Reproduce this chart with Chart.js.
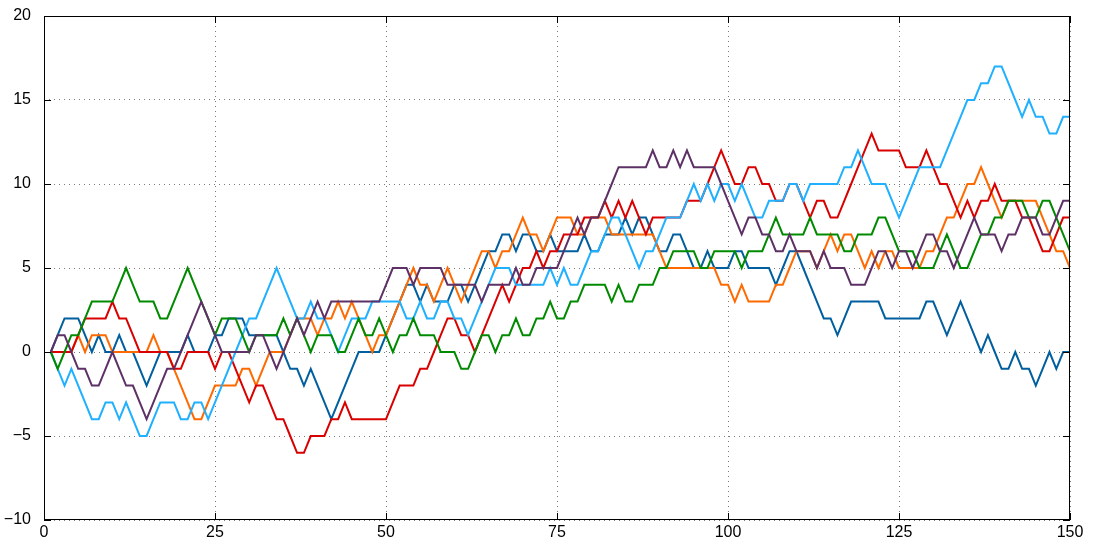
<!DOCTYPE html>
<html>
<head>
<meta charset="utf-8">
<script src="https://cdn.jsdelivr.net/npm/chart.js@4.4.1/dist/chart.umd.min.js"></script>
<style>
  html, body { margin: 0; padding: 0; background: #ffffff; }
  #wrap { width: 1096px; height: 546px; position: relative; }
</style>
</head>
<body>
<div id="wrap"><canvas id="c" width="1096" height="546"></canvas></div>
<script>
// x positions of the walk (steps 1..150)
const steps = [];
for (let k = 1; k <= 150; k++) steps.push(k);

const xTicks = [0, 25, 50, 75, 100, 125, 150];
const yTicks = [-10, -5, 0, 5, 10, 15, 20];

const walkBlue = [0,1,2,2,2,1,0,1,0,0,1,0,0,-1,-2,-1,0,0,0,0,1,0,0,0,1,
  1,2,2,2,1,1,1,1,1,0,-1,-1,-2,-1,-2,-3,-4,-3,-2,-1,0,0,0,0,1,
  2,3,4,4,3,4,3,3,3,4,4,3,4,5,6,6,7,7,6,7,7,6,6,7,6,
  6,6,6,7,6,6,7,7,7,8,7,8,8,7,6,6,7,7,6,5,5,6,5,5,5,
  6,6,5,5,5,5,4,5,6,6,5,4,3,2,2,1,2,3,3,3,3,3,2,2,2,
  2,2,2,3,3,2,1,2,3,2,1,0,1,0,-1,-1,0,-1,-1,-2,-1,0,-1,0,0];

const walkOrange = [0,0,0,0,1,0,1,1,1,0,0,0,0,0,0,1,0,0,-1,-2,-3,-4,-4,-3,-2,
  -2,-2,-2,-1,-1,-2,-1,0,0,0,1,2,2,2,1,2,2,3,2,3,2,1,0,1,1,
  2,3,4,5,4,4,3,4,5,4,3,4,5,6,6,5,6,6,7,8,7,7,6,7,8,
  8,8,7,7,8,8,8,7,7,7,7,7,7,7,6,5,5,5,5,5,5,5,5,4,4,
  3,4,3,3,3,3,4,4,5,6,6,6,5,6,7,6,7,7,6,5,6,5,6,6,5,
  5,5,5,6,6,7,8,8,9,10,10,11,10,9,8,9,9,9,9,9,8,7,6,6,5];

const walkRed = [0,0,0,0,1,2,2,2,2,3,2,2,1,0,0,0,0,0,-1,-1,0,0,0,0,-1,
  0,0,-1,-2,-3,-2,-2,-3,-4,-4,-5,-6,-6,-5,-5,-5,-4,-4,-3,-4,-4,-4,-4,-4,-4,
  -3,-2,-2,-2,-1,-1,0,1,2,2,1,1,0,1,2,3,4,3,4,5,5,6,5,6,6,
  7,7,7,8,8,8,9,8,9,8,9,8,7,8,8,8,8,8,9,9,9,10,11,12,11,
  10,10,11,11,10,10,9,9,10,10,9,8,9,9,8,8,9,10,11,12,13,12,12,12,12,
  11,11,11,12,11,10,10,9,8,9,8,9,9,10,9,9,9,8,8,7,6,6,7,8,8];

const walkLightBlue = [0,-1,-2,-1,-2,-3,-4,-4,-3,-3,-4,-3,-4,-5,-5,-4,-3,-3,-3,-4,-4,-3,-3,-4,-3,
  -2,-1,0,1,2,2,3,4,5,4,3,2,2,3,2,2,1,0,1,2,2,2,3,3,3,
  3,3,2,2,3,2,2,3,3,2,2,1,2,3,4,5,5,5,4,4,4,4,4,5,4,
  5,4,4,5,6,6,7,8,8,7,6,5,6,6,7,8,8,8,9,10,9,10,9,10,10,
  9,10,9,8,8,9,9,9,10,10,9,10,10,10,10,10,11,11,12,11,10,10,10,9,8,
  9,10,11,11,11,11,12,13,14,15,15,16,16,17,17,16,15,14,15,14,14,13,13,14,14];

const walkGreen = [0,-1,0,1,1,2,3,3,3,3,4,5,4,3,3,3,2,2,3,4,5,4,3,2,1,
  2,2,2,1,0,1,1,1,1,2,1,2,1,0,1,1,1,0,0,1,2,1,1,2,1,
  0,1,1,2,1,1,1,0,0,0,-1,-1,0,1,1,0,1,1,2,1,1,2,2,3,2,
  2,3,3,4,4,4,4,3,4,3,3,4,4,4,5,5,6,6,6,6,5,5,6,6,6,
  6,5,6,6,6,7,8,7,7,7,7,8,7,7,7,7,6,6,7,7,7,8,8,7,6,
  6,6,5,5,5,6,7,6,5,5,6,7,7,8,8,9,9,9,8,8,9,9,8,7,6];

const walkPurple = [0,1,1,0,-1,-1,-2,-2,-1,0,-1,-2,-2,-3,-4,-3,-2,-1,-1,0,1,2,3,2,1,
  0,0,0,0,0,1,1,0,-1,0,1,2,1,2,3,2,3,3,3,3,3,3,3,3,4,
  5,5,5,4,5,5,5,5,4,4,4,4,4,3,4,4,4,4,5,4,4,5,5,5,5,
  6,7,8,7,8,8,9,10,11,11,11,11,11,12,11,11,12,11,12,11,11,11,11,10,9,
  8,7,8,8,7,7,6,6,7,6,6,6,5,6,5,5,5,4,4,4,5,6,6,5,6,
  6,5,6,7,7,6,6,5,6,7,8,7,7,7,6,7,7,8,8,8,7,7,8,9,9];

const seriesNames = ['Walk 1', 'Walk 2', 'Walk 3', 'Walk 4', 'Walk 5', 'Walk 6'];
const seriesValues = [walkBlue, walkOrange, walkRed, walkLightBlue, walkGreen, walkPurple];
const seriesColors = ['#005f9e', '#ff6a00', '#d90000', '#1fb0ff', '#008a00', '#5e3166'];
const drawOrder = [6, 5, 4, 3, 2, 1];

const datasets = seriesValues.map((vals, i) => ({
  label: seriesNames[i],
  data: vals.map((v, j) => ({ x: steps[j], y: v })),
  borderColor: seriesColors[i],
  backgroundColor: seriesColors[i],
  borderWidth: 2,
  pointRadius: 0,
  tension: 0,
  fill: false,
  order: drawOrder[i]
}));

const framePlugin = {
  id: 'frame',
  afterDatasetsDraw(chart) {
    const { ctx, chartArea: a, scales } = chart;
    ctx.save();
    ctx.strokeStyle = '#000';
    ctx.lineWidth = 1;
    ctx.strokeRect(a.left + 0.5, a.top + 0.5, a.right - a.left - 1, a.bottom - a.top - 1);
    ctx.beginPath();
    const tl = 7;
    xTicks.forEach(t => {
      const px = Math.round(scales.x.getPixelForValue(t)) + 0.5;
      ctx.moveTo(px, a.bottom); ctx.lineTo(px, a.bottom - tl);
      ctx.moveTo(px, a.top); ctx.lineTo(px, a.top + tl);
    });
    yTicks.forEach(t => {
      const py = Math.round(scales.y.getPixelForValue(t)) + 0.5;
      ctx.moveTo(a.left, py); ctx.lineTo(a.left + tl, py);
      ctx.moveTo(a.right, py); ctx.lineTo(a.right - tl, py);
    });
    ctx.stroke();
    ctx.restore();
  }
};

const fmt = v => String(v).replace('-', '\u2212');

new Chart(document.getElementById('c'), {
  type: 'line',
  data: { datasets },
  options: {
    responsive: false,
    animation: false,
    layout: { padding: { left: 0, right: 26, top: 16, bottom: 0 } },
    plugins: { legend: { display: false }, tooltip: { enabled: false } },
    scales: {
      x: {
        type: 'linear',
        min: 0, max: 150,
        afterBuildTicks: s => { s.ticks = xTicks.map(v => ({ value: v })); },
        afterFit: s => { s.height = 26; s.paddingLeft = 0; s.paddingRight = 0; },
        ticks: { color: '#000', font: { family: 'Liberation Sans, Arial, sans-serif', size: 16 }, padding: 3, maxRotation: 0, callback: fmt },
        grid: { color: '#7a7a7a', lineWidth: 1, drawTicks: false, tickLength: 0 },
        border: { display: false, dash: [1, 4] }
      },
      y: {
        type: 'linear',
        min: -10, max: 20,
        afterBuildTicks: s => { s.ticks = yTicks.map(v => ({ value: v })); },
        afterFit: s => { s.width = 44; s.paddingTop = 0; s.paddingBottom = 0; },
        ticks: { color: '#000', font: { family: 'Liberation Sans, Arial, sans-serif', size: 16 }, padding: 13, callback: fmt },
        grid: { color: '#7a7a7a', lineWidth: 1, drawTicks: false, tickLength: 0 },
        border: { display: false, dash: [1, 4] }
      }
    }
  },
  plugins: [framePlugin]
});
</script>
</body>
</html>
